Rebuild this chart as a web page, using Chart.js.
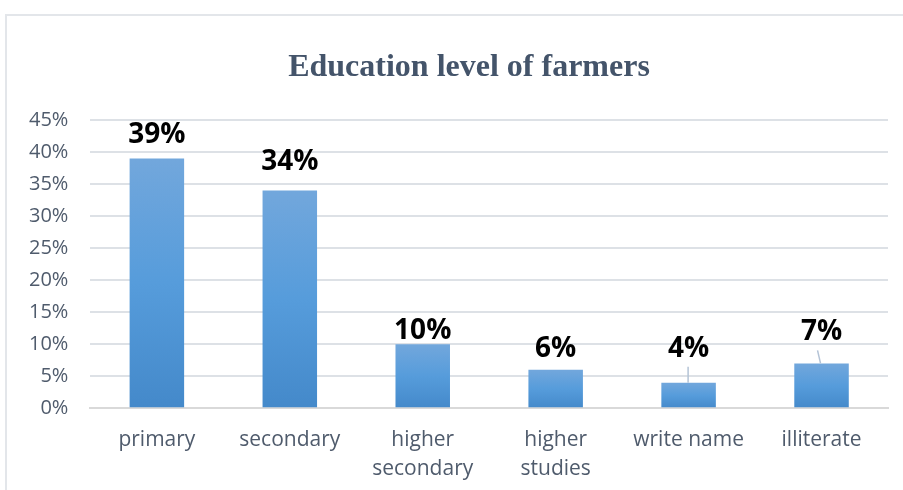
<!DOCTYPE html>
<html>
<head>
<meta charset="utf-8">
<script src="https://cdn.jsdelivr.net/npm/chart.js@4.4.1/dist/chart.umd.min.js"></script>
<style>
  html, body { margin: 0; padding: 0; background: #fff; overflow: hidden; }
  #box {
    position: absolute; left: 5px; top: 14px; width: 898px; height: 478px; overflow: hidden;
    border-left: 2px solid #E3E6EA; border-top: 2px solid #E3E6EA;
  }
</style>
</head>
<body>
<div id="box"><canvas id="eduChart" width="896" height="477"></canvas></div>
<script>
// chart values
const categories = [['primary'], ['secondary'], ['higher', 'secondary'], ['higher', 'studies'], ['write name'], ['illiterate']];
const shares = [39, 34, 10, 6, 4, 7];
const yTicks = [0, 5, 10, 15, 20, 25, 30, 35, 40, 45];

// how far each value label sits above its bar (px), and which ones get a leader line
const labelGap = [26, 31, 16, 24, 37, 34];
const leader = [false, false, false, false, true, true];

// per-bar vertical gradient, like the Excel fill
function barFill(ctx) {
    const chart = ctx.chart;
    if (!chart.chartArea || ctx.dataIndex === undefined) return '#5B9BD5';
    const y = chart.scales.y;
    const top = y.getPixelForValue(shares[ctx.dataIndex]);
    const bottom = y.getPixelForValue(0);
    const g = chart.ctx.createLinearGradient(0, top, 0, bottom);
    g.addColorStop(0, '#72A7DC');
    g.addColorStop(0.5, '#569CDB');
    g.addColorStop(1, '#4489CA');
    return g;
}

// title + value labels drawn by hand
const decorations = {
    id: 'decorations',
    afterDatasetsDraw(chart) {
        const c = chart.ctx;
        c.save();
        c.fillStyle = '#44546A';
        c.font = 'bold 32px "Liberation Serif", serif';
        c.textAlign = 'center';
        c.textBaseline = 'middle';
        c.fillText('Education level of farmers', 462, 52);

        const meta = chart.getDatasetMeta(0);
        c.font = 'bold 28px "Open Sans", "Noto Sans", sans-serif';
        c.fillStyle = '#000';
        meta.data.forEach((bar, i) => {
            const ly = bar.y - labelGap[i];
            c.fillText(shares[i] + '%', bar.x, ly + 3);
            if (leader[i]) {
                c.strokeStyle = '#B4C3D6';
                c.lineWidth = 1.5;
                c.beginPath();
                if (i === 5) {
                    c.moveTo(bar.x - 4, ly + 21);
                    c.lineTo(bar.x - 1, bar.y);
                } else {
                    c.moveTo(bar.x - 0.5, ly + 21);
                    c.lineTo(bar.x - 0.5, bar.y);
                }
                c.stroke();
            }
        });
        c.restore();
    }
};

const ctx = document.getElementById('eduChart').getContext('2d');
new Chart(ctx, {
    type: 'bar',
    data: {
        labels: categories,
        datasets: [{
            label: 'Education level',
            data: shares,
            backgroundColor: barFill,
            barPercentage: 0.41,
            categoryPercentage: 1
        }]
    },
    options: {
        responsive: false,
        animation: false,
        layout: { padding: { top: 104, right: 15, left: 0, bottom: 0 } },
        plugins: {
            legend: { display: false },
            tooltip: { enabled: false }
        },
        scales: {
            x: {
                grid: { display: false },
                border: { color: '#D9D9D9', width: 2 },
                ticks: {
                    color: '#4F5B6C',
                    font: { size: 21, family: '"Open Sans", "Noto Sans", sans-serif', lineHeight: 1.35 },
                    padding: 10,
                    maxRotation: 0
                }
            },
            y: {
                min: 0,
                max: 45,
                afterBuildTicks(axis) { axis.ticks = yTicks.map(v => ({ value: v })); },
                grid: { color: '#DDE1E6', lineWidth: 2, drawTicks: false },
                border: { display: false },
                ticks: {
                    color: '#4F5B6C',
                    font: { size: 20, family: '"Open Sans", "Noto Sans", sans-serif' },
                    padding: 22,
                    callback: v => v + '%'
                }
            }
        }
    },
    plugins: [decorations]
});
</script>
</body>
</html>
